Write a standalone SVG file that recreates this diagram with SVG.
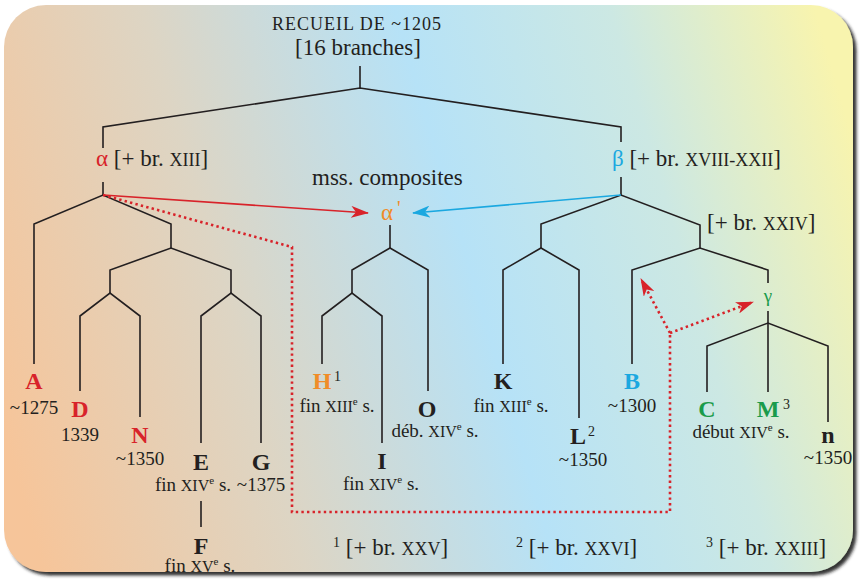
<svg xmlns="http://www.w3.org/2000/svg" width="862" height="580" viewBox="0 0 862 580">
<defs>
<linearGradient id="bg" gradientUnits="userSpaceOnUse" x1="0" y1="420" x2="862" y2="170">
<stop offset="0" stop-color="#f6c59a"/>
<stop offset="0.28" stop-color="#ddd5c4"/>
<stop offset="0.55" stop-color="#b6e2f7"/>
<stop offset="0.78" stop-color="#cce8e3"/>
<stop offset="1" stop-color="#f8f4ae"/>
</linearGradient>
<filter id="sh" x="-5%" y="-5%" width="110%" height="110%">
<feDropShadow dx="3.5" dy="3.5" stdDeviation="1.8" flood-color="#1a1a1a" flood-opacity="0.9"/>
</filter>
<marker id="arR" viewBox="0 0 18 12" refX="17" refY="6" markerWidth="18" markerHeight="12" markerUnits="userSpaceOnUse" orient="auto">
<path d="M0,0 L18,6 L0,12 L5,6 z" fill="#d8232a"/>
</marker>
<marker id="arB" viewBox="0 0 18 12" refX="17" refY="6" markerWidth="18" markerHeight="12" markerUnits="userSpaceOnUse" orient="auto">
<path d="M0,0 L18,6 L0,12 L5,6 z" fill="#1ba8e0"/>
</marker>
<style>
text { font-family: "Liberation Serif", "DejaVu Serif", serif; fill: #231f20; }
.m { font-size: 23px; }
.s { font-size: 19px; }
.b { font-size: 24px; font-weight: bold; text-anchor: middle; }
.c { text-anchor: middle; }
.sup { font-size: 14px; }
.red { fill: #d8232a; }
.org { fill: #f08c28; }
.blu { fill: #1ba8e0; }
.grn { fill: #1a9b4b; }
.edge { fill: none; stroke: #231f20; stroke-width: 1.6; stroke-linejoin: miter; }
.dot { fill: none; stroke: #d8232a; stroke-width: 2.6; stroke-dasharray: 2.4 3.2; }
</style>
</defs>

<rect x="4" y="5" width="849" height="567" rx="42" ry="42" fill="url(#bg)" filter="url(#sh)"/>

<g id="connectors">
<polyline class="edge" points="360,66 360,88"/>
<polyline class="edge" points="103,148 103,127 360,88 621,127 621,142"/>
<polyline class="edge" points="103,182 103,195"/>
<polyline class="edge" points="621,177 621,195"/>
<polyline class="edge" points="34,364 34,224 103,195 171,224 171,248"/>
<polyline class="edge" points="110,293 110,270 171,248 231,270 231,293"/>
<polyline class="edge" points="80,391 80,316 110,293 140,316 140,417"/>
<polyline class="edge" points="201,443 201,316 231,293 261,316 261,443"/>
<polyline class="edge" points="201,501 201,527"/>
<polyline class="edge" points="390,225 390,248"/>
<polyline class="edge" points="352,293 352,270 390,248 428,270 428,391"/>
<polyline class="edge" points="322,364 322,316 352,293 382,316 382,443"/>
<polyline class="edge" points="541,248 541,224 621,195 700,225 700,248"/>
<polyline class="edge" points="503,364 503,270 541,248 579,270 579,418"/>
<polyline class="edge" points="632,364 632,270 700,248 768,270 768,283"/>
<polyline class="edge" points="768,311 768,392"/>
<polyline class="edge" points="707,392 707,346 768,323 828,346 828,422"/>
<line x1="103" y1="195" x2="368" y2="213" stroke="#d8232a" stroke-width="1.6" marker-end="url(#arR)"/>
<line x1="621" y1="195" x2="413" y2="213" stroke="#1ba8e0" stroke-width="1.6" marker-end="url(#arB)"/>
<path class="dot" d="M103,195 L292,247 V512 H670 V333"/>
<line class="dot" x1="670" y1="333" x2="641" y2="279" marker-end="url(#arR)"/>
<line class="dot" x1="670" y1="333" x2="753" y2="302" marker-end="url(#arR)"/>
</g>

<g id="root">
<text class="c" x="357" y="30" font-size="18" letter-spacing="1">RECUEIL DE ~1205</text>
<text class="m c" x="358" y="55">[16 branches]</text>
</g>

<g id="alpha">
<text class="m" x="96" y="166"><tspan class="red">α</tspan> [+ br. <tspan font-size="18">XIII</tspan>]</text>
</g>

<g id="beta">
<text class="m" x="612" y="166"><tspan class="blu">β</tspan> [+ br. <tspan font-size="18">XVIII-XXII</tspan>]</text>
</g>

<g id="alpha-prime">
<text class="m" x="312" y="185">mss. composites</text>
<text class="m org" x="381" y="220">α<tspan dx="4" dy="-5" font-size="20">'</tspan></text>
</g>

<g id="br24">
<text class="m" x="707" y="230">[+ br. <tspan font-size="18">XXIV</tspan>]</text>
</g>

<g id="gamma">
<text class="grn c" x="768" y="302" font-size="19">γ</text>
</g>

<g id="A">
<text class="b red" x="34" y="389">A</text>
<text class="s c" x="34" y="414">~1275</text>
</g>
<g id="D">
<text class="b red" x="80" y="417">D</text>
<text class="s c" x="80" y="441">1339</text>
</g>
<g id="N">
<text class="b red" x="140" y="443">N</text>
<text class="s c" x="140" y="465">~1350</text>
</g>
<g id="E">
<text class="b" x="201" y="470">E</text>
<text class="s c" x="193" y="491">fin <tspan font-size="16">XIV</tspan><tspan font-size="11" dy="-7">e</tspan><tspan dy="7"> s.</tspan></text>
</g>
<g id="G">
<text class="b" x="261" y="470">G</text>
<text class="s c" x="261" y="491">~1375</text>
</g>
<g id="F">
<text class="b" x="201" y="554">F</text>
<text class="s c" x="200" y="572">fin <tspan font-size="16">XV</tspan><tspan font-size="11" dy="-7">e</tspan><tspan dy="7"> s.</tspan></text>
</g>
<g id="H">
<text class="b org" x="322" y="389">H</text>
<text class="sup" x="334" y="381">1</text>
<text class="s c" x="337" y="412">fin <tspan font-size="16">XIII</tspan><tspan font-size="11" dy="-7">e</tspan><tspan dy="7"> s.</tspan></text>
</g>
<g id="O">
<text class="b" x="427" y="417">O</text>
<text class="s c" x="435" y="437">déb. <tspan font-size="16">XIV</tspan><tspan font-size="11" dy="-7">e</tspan><tspan dy="7"> s.</tspan></text>
</g>
<g id="I">
<text class="b" x="382" y="469">I</text>
<text class="s c" x="381" y="490">fin <tspan font-size="16">XIV</tspan><tspan font-size="11" dy="-7">e</tspan><tspan dy="7"> s.</tspan></text>
</g>
<g id="K">
<text class="b" x="503" y="389">K</text>
<text class="s c" x="511" y="412">fin <tspan font-size="16">XIII</tspan><tspan font-size="11" dy="-7">e</tspan><tspan dy="7"> s.</tspan></text>
</g>
<g id="L">
<text class="b" x="578" y="444">L</text>
<text class="sup" x="588" y="436">2</text>
<text class="s c" x="583" y="466">~1350</text>
</g>
<g id="B">
<text class="b blu" x="632" y="389">B</text>
<text class="s c" x="632" y="412">~1300</text>
</g>
<g id="C">
<text class="b grn" x="707" y="417">C</text>
</g>
<g id="M">
<text class="b grn" x="768" y="417">M</text>
<text class="sup" x="783" y="409">3</text>
<text class="s c" x="741" y="438">début <tspan font-size="16">XIV</tspan><tspan font-size="11" dy="-7">e</tspan><tspan dy="7"> s.</tspan></text>
</g>
<g id="n">
<text class="b" x="828" y="443">n</text>
<text class="s c" x="828" y="464">~1350</text>
</g>

<g id="notes">
<text class="m" x="333" y="555"><tspan font-size="14" dy="-8">1</tspan><tspan dy="8"> [+ br. </tspan><tspan font-size="18">XXV</tspan>]</text>
<text class="m" x="516" y="555"><tspan font-size="14" dy="-8">2</tspan><tspan dy="8"> [+ br. </tspan><tspan font-size="18">XXVI</tspan>]</text>
<text class="m" x="706" y="555"><tspan font-size="14" dy="-8">3</tspan><tspan dy="8"> [+ br. </tspan><tspan font-size="18">XXIII</tspan>]</text>
</g>
</svg>
